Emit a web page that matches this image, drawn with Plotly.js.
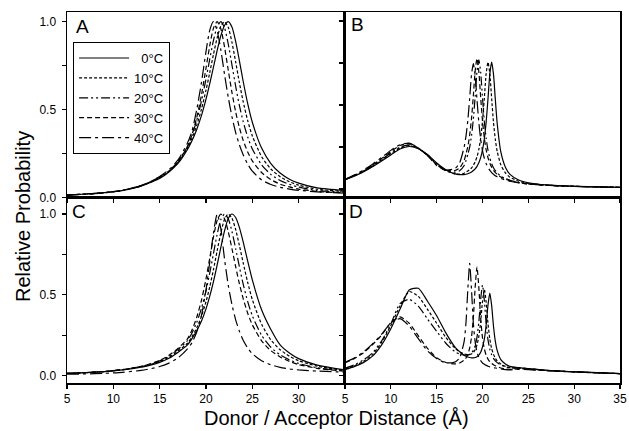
<!DOCTYPE html>
<html>
<head>
<meta charset="utf-8">
<script src="https://cdn.plot.ly/plotly-3.0.1.min.js"></script>
<style>html,body{margin:0;padding:0;background:#fff;}#chart{width:629px;height:431px;}</style>
</head>
<body>
<div id="chart"></div>
<script>
// ---- data ----
var temps = ['0°C', '10°C', '20°C', '30°C', '40°C'];
var panels = ['A', 'B', 'C', 'D'];
var xTicks = [5, 10, 15, 20, 25, 30, 35];

// distance grid for panels A and C
var xL = [5,7,9,11,13,14,15,16,17,18,18.5,19,19.5,20,20.4,20.8,21.2,21.6,22,22.4,22.8,23.2,23.6,24,24.5,25,26,27,28,29,30,32,35];
// distance grid for panels B and D
var xR = [5,6,7,8,9,10,11,12,13,14,15,16,17,17.5,18,18.2,18.4,18.6,18.8,19,19.2,19.4,19.6,19.8,20,20.2,20.4,20.6,20.8,21,21.2,21.4,21.6,22,22.5,23,24,25,27,30,35];

var A_0C  = [0.015,0.02,0.028,0.04,0.065,0.085,0.108,0.145,0.195,0.273,0.324,0.387,0.464,0.559,0.646,0.74,0.835,0.919,0.978,1.0,0.969,0.888,0.779,0.664,0.534,0.428,0.281,0.193,0.139,0.104,0.082,0.055,0.04];
var A_10C = [0.015,0.02,0.028,0.04,0.066,0.087,0.112,0.148,0.2,0.281,0.338,0.41,0.5,0.61,0.709,0.813,0.907,0.975,1.0,0.968,0.883,0.771,0.654,0.548,0.437,0.35,0.232,0.162,0.118,0.09,0.07,0.047,0.035];
var A_20C = [0.014,0.019,0.027,0.04,0.066,0.088,0.114,0.15,0.205,0.29,0.355,0.439,0.545,0.674,0.786,0.892,0.971,1.0,0.965,0.873,0.754,0.633,0.524,0.434,0.344,0.276,0.186,0.131,0.097,0.075,0.059,0.04,0.03];
var A_30C = [0.014,0.019,0.027,0.041,0.068,0.09,0.118,0.15,0.205,0.29,0.36,0.455,0.58,0.735,0.862,0.962,1.0,0.96,0.856,0.725,0.598,0.487,0.398,0.327,0.259,0.208,0.142,0.102,0.076,0.06,0.048,0.034,0.027];
var A_40C = [0.013,0.018,0.026,0.04,0.068,0.09,0.12,0.158,0.215,0.31,0.38,0.5,0.65,0.83,0.95,1.0,0.95,0.84,0.7,0.57,0.46,0.37,0.3,0.245,0.19,0.15,0.1,0.074,0.058,0.048,0.041,0.032,0.025];

var B_0C  = [0.055,0.076,0.101,0.132,0.167,0.203,0.238,0.253,0.24,0.206,0.155,0.115,0.09,0.086,0.086,0.088,0.091,0.095,0.101,0.11,0.12,0.135,0.156,0.187,0.232,0.299,0.399,0.537,0.685,0.756,0.683,0.533,0.393,0.221,0.13,0.087,0.052,0.037,0.024,0.016,0.01];
var B_10C = [0.056,0.078,0.104,0.136,0.172,0.21,0.243,0.259,0.24,0.2,0.15,0.11,0.09,0.088,0.094,0.1,0.107,0.115,0.125,0.141,0.162,0.192,0.236,0.303,0.403,0.54,0.688,0.754,0.686,0.537,0.396,0.295,0.225,0.144,0.096,0.07,0.046,0.034,0.023,0.016,0.01];
var B_20C = [0.056,0.079,0.106,0.138,0.176,0.215,0.25,0.263,0.241,0.2,0.145,0.11,0.1,0.108,0.14,0.17,0.206,0.249,0.316,0.415,0.552,0.699,0.769,0.695,0.544,0.402,0.301,0.231,0.184,0.151,0.127,0.109,0.096,0.076,0.063,0.052,0.038,0.031,0.022,0.016,0.01];
var B_30C = [0.057,0.081,0.109,0.142,0.182,0.223,0.259,0.27,0.244,0.201,0.145,0.112,0.11,0.125,0.17,0.21,0.253,0.32,0.418,0.555,0.702,0.777,0.698,0.547,0.406,0.303,0.233,0.186,0.153,0.129,0.111,0.098,0.087,0.071,0.058,0.05,0.038,0.03,0.022,0.016,0.01];
var B_40C = [0.058,0.083,0.112,0.148,0.188,0.23,0.264,0.273,0.245,0.2,0.14,0.112,0.122,0.155,0.251,0.315,0.409,0.54,0.68,0.747,0.676,0.531,0.396,0.297,0.229,0.183,0.151,0.128,0.111,0.098,0.088,0.079,0.073,0.063,0.053,0.046,0.036,0.03,0.022,0.016,0.01];

var C_0C  = [0.013,0.018,0.025,0.035,0.052,0.065,0.082,0.107,0.145,0.19,0.23,0.277,0.336,0.413,0.49,0.58,0.683,0.793,0.896,0.972,1.0,0.978,0.917,0.83,0.708,0.592,0.407,0.285,0.19,0.14,0.105,0.065,0.035];
var C_10C = [0.013,0.018,0.025,0.036,0.054,0.068,0.087,0.113,0.153,0.2,0.241,0.295,0.365,0.457,0.548,0.654,0.771,0.883,0.968,1.0,0.974,0.904,0.806,0.701,0.576,0.47,0.317,0.221,0.16,0.12,0.092,0.058,0.032];
var C_20C = [0.013,0.018,0.025,0.037,0.056,0.071,0.091,0.12,0.163,0.216,0.265,0.329,0.414,0.524,0.633,0.754,0.873,0.965,1.0,0.971,0.892,0.786,0.674,0.569,0.458,0.37,0.249,0.175,0.128,0.097,0.075,0.048,0.028];
var C_30C = [0.013,0.018,0.025,0.037,0.057,0.073,0.094,0.125,0.17,0.227,0.283,0.36,0.463,0.598,0.725,0.856,0.96,1.0,0.971,0.892,0.786,0.674,0.569,0.479,0.386,0.314,0.215,0.154,0.115,0.088,0.068,0.045,0.027];
var C_40C = [0.008,0.01,0.014,0.02,0.032,0.042,0.056,0.077,0.11,0.165,0.205,0.27,0.37,0.53,0.7,0.88,1.0,0.91,0.72,0.56,0.44,0.345,0.275,0.22,0.17,0.135,0.092,0.067,0.051,0.041,0.035,0.028,0.021];

var D_0C  = [0.036,0.055,0.08,0.12,0.19,0.29,0.41,0.53,0.54,0.46,0.37,0.264,0.176,0.148,0.126,0.12,0.115,0.112,0.11,0.11,0.112,0.117,0.126,0.144,0.177,0.225,0.313,0.437,0.51,0.433,0.305,0.212,0.156,0.099,0.071,0.057,0.049,0.043,0.033,0.024,0.012];
var D_10C = [0.04,0.06,0.088,0.13,0.205,0.31,0.43,0.52,0.49,0.41,0.324,0.236,0.169,0.147,0.134,0.131,0.13,0.131,0.134,0.143,0.16,0.19,0.242,0.332,0.46,0.535,0.454,0.321,0.225,0.167,0.131,0.107,0.091,0.072,0.057,0.049,0.046,0.042,0.032,0.023,0.012];
var D_20C = [0.045,0.066,0.096,0.14,0.215,0.32,0.445,0.472,0.43,0.35,0.274,0.2,0.147,0.134,0.126,0.126,0.127,0.131,0.14,0.156,0.185,0.238,0.331,0.471,0.56,0.465,0.32,0.221,0.163,0.128,0.106,0.091,0.08,0.066,0.055,0.048,0.046,0.043,0.032,0.023,0.012];
var D_30C = [0.08,0.105,0.14,0.191,0.251,0.327,0.363,0.324,0.246,0.168,0.11,0.081,0.072,0.078,0.095,0.109,0.132,0.17,0.237,0.358,0.546,0.672,0.545,0.356,0.234,0.166,0.126,0.102,0.086,0.075,0.067,0.061,0.056,0.047,0.042,0.038,0.042,0.039,0.031,0.023,0.012];
var D_40C = [0.082,0.108,0.145,0.196,0.256,0.326,0.352,0.307,0.228,0.153,0.105,0.079,0.084,0.11,0.212,0.328,0.535,0.694,0.533,0.325,0.207,0.146,0.112,0.092,0.078,0.07,0.063,0.058,0.054,0.051,0.049,0.047,0.045,0.041,0.037,0.035,0.039,0.037,0.03,0.022,0.012];

// ---- styling ----
var FONT = 'Arial, "Liberation Sans", Helvetica, sans-serif';
var dashes = ['solid', '3px,2px', '9px,3px,2px,3px,2px,3px', '5px,3px', '12px,4px,3px,4px'];
var series = {
  A: [A_0C, A_10C, A_20C, A_30C, A_40C],
  B: [B_0C, B_10C, B_20C, B_30C, B_40C],
  C: [C_0C, C_10C, C_20C, C_30C, C_40C],
  D: [D_0C, D_10C, D_20C, D_30C, D_40C]
};
var axisIdx = {A: '', B: '2', C: '3', D: '4'};

var traces = [];
panels.forEach(function (p) {
  series[p].forEach(function (ys, i) {
    traces.push({
      x: (p === 'A' || p === 'C') ? xL : xR,
      y: ys,
      xaxis: 'x' + axisIdx[p],
      yaxis: 'y' + axisIdx[p],
      type: 'scatter',
      mode: 'lines',
      name: (temps[i].length < 4 ? '\u00a0\u00a0' : '') + temps[i],
      legendgroup: temps[i],
      showlegend: p === 'A',
      hoverinfo: 'skip',
      line: {color: '#000', width: 1.2, dash: dashes[i], shape: 'spline', smoothing: 0.6}
    });
  });
});

var yVals = [0, 0.25, 0.5, 0.75, 1];
var yText = ['0.0', '', '0.5', '', '1.0'];
function xAx(dom, anchor, labels) {
  return {
    domain: dom, anchor: anchor, range: [5, 35],
    tickmode: 'array', tickvals: xTicks,
    ticktext: labels,
    showticklabels: !!labels,
    ticks: 'outside', ticklen: 4, tickwidth: 1.2, tickcolor: '#000',
    showline: true, linecolor: '#000', linewidth: 1.5, mirror: true,
    showgrid: false, zeroline: false,
    tickfont: {family: FONT, size: 12, color: '#000'}
  };
}
function yAx(dom, anchor, range, labels) {
  return {
    domain: dom, anchor: anchor, range: range,
    tickmode: 'array', tickvals: yVals, ticktext: yText,
    showticklabels: labels,
    ticks: 'outside', ticklen: 4, tickwidth: 1.2, tickcolor: '#000',
    ticklabelstandoff: 3,
    showline: true, linecolor: '#000', linewidth: 1.5, mirror: true,
    showgrid: false, zeroline: false,
    tickfont: {family: FONT, size: 12, color: '#000'}
  };
}
var split = 0.5027;
var layout = {
  width: 629, height: 431,
  margin: {l: 67, r: 9, t: 12, b: 48},
  paper_bgcolor: '#fff', plot_bgcolor: '#fff',
  font: {family: FONT, color: '#000'},
  showlegend: true,
  legend: {
    x: 0.011, y: 0.919, xanchor: 'left', yanchor: 'top',
    bgcolor: '#fff', bordercolor: '#000', borderwidth: 1,
    font: {family: FONT, size: 13, color: '#000'},
    itemwidth: 50, tracegroupgap: 0
  },
  xaxis:  xAx([0, split], 'y', null),
  yaxis:  yAx([0.5, 1], 'x', [0, 1.055], true),
  xaxis2: xAx([split, 1], 'y2', null),
  yaxis2: yAx([0.5, 1], 'x2', [-0.0506, 1.054], false),
  xaxis3: xAx([0, split], 'y3', ['5', '10', '15', '20', '25', '30', '']),
  yaxis3: yAx([0, 0.5], 'x3', [-0.046, 1.102], true),
  xaxis4: xAx([split, 1], 'y4', ['5', '10', '15', '20', '25', '30', '35']),
  yaxis4: yAx([0, 0.5], 'x4', [-0.046, 1.102], false),
  annotations: [
    {text: 'A', xref: 'paper', yref: 'paper', x: 0.0289, y: 0.962, showarrow: false, xanchor: 'center', yanchor: 'middle', font: {family: FONT, size: 19, color: '#000'}},
    {text: 'B', xref: 'paper', yref: 'paper', x: 0.5253, y: 0.965, showarrow: false, xanchor: 'center', yanchor: 'middle', font: {family: FONT, size: 19, color: '#000'}},
    {text: 'C', xref: 'paper', yref: 'paper', x: 0.0217, y: 0.461, showarrow: false, xanchor: 'center', yanchor: 'middle', font: {family: FONT, size: 19, color: '#000'}},
    {text: 'D', xref: 'paper', yref: 'paper', x: 0.5226, y: 0.4636, showarrow: false, xanchor: 'center', yanchor: 'middle', font: {family: FONT, size: 19, color: '#000'}},
    {text: 'Relative Probability', xref: 'paper', yref: 'paper', x: -0.0796, y: 0.45, textangle: -90, showarrow: false, xanchor: 'center', yanchor: 'middle', font: {family: FONT, size: 20, color: '#000'}},
    {text: 'Donor / Acceptor Distance (Å)', xref: 'paper', yref: 'paper', x: 0.4873, y: -0.0943, showarrow: false, xanchor: 'center', yanchor: 'middle', font: {family: FONT, size: 20, color: '#000'}}
  ]
};

Plotly.newPlot('chart', traces, layout, {staticPlot: true, displayModeBar: false});
</script>
</body>
</html>
